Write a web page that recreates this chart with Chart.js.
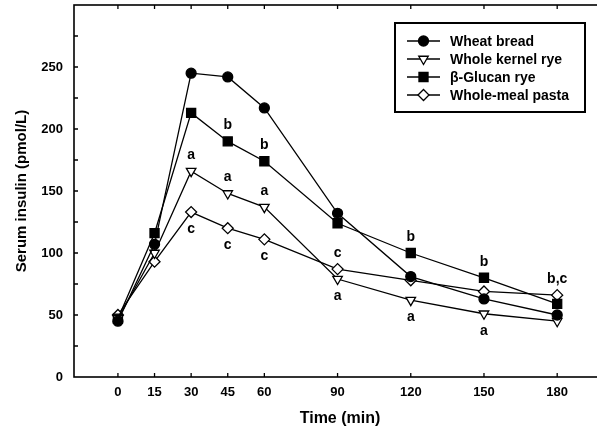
<!DOCTYPE html>
<html>
<head>
<meta charset="utf-8">
<script src="https://cdn.jsdelivr.net/npm/chart.js@4/dist/chart.umd.min.js"></script>
<style>
    html, body { margin: 0; padding: 0; background: #fff; overflow: hidden; }
    #wrap { width: 620px; height: 432px; }
</style>
</head>
<body>
<div id="wrap"><canvas id="chartInsulin" width="620" height="432"></canvas></div>
<script>
    const times = [0, 15, 30, 45, 60, 90, 120, 150, 180];
    const wheatBread = [45, 107, 245, 242, 217, 132, 81, 63, 50];
    const wholeKernelRye = [47, 100, 166, 148, 137, 79, 62, 51, 45];
    const glucanRye = [47, 116, 213, 190, 174, 124, 100, 80, 59];
    const wholeMealPasta = [50, 93, 133, 120, 111, 87, 78, 69, 66];
    const seriesNames = ['Wheat bread', 'Whole kernel rye', 'β-Glucan rye', 'Whole-meal pasta'];
    const yLabelTicks = [0, 50, 100, 150, 200, 250];

    // significance letters: series index, time, text, above/below the point
    const noteSeries = [2, 2, 1, 1, 1, 3, 3, 3, 3, 1, 2, 1, 2, 1, 3];
    const noteTimes = [45, 60, 30, 45, 60, 30, 45, 60, 90, 90, 120, 120, 150, 150, 180];
    const noteText = ['b', 'b', 'a', 'a', 'a', 'c', 'c', 'c', 'c', 'a', 'b', 'a', 'b', 'a', 'b,c'];
    const noteAbove = [true, true, true, true, true, false, false, false, true, false, true, false, true, false, true];

    const FONT = '"Liberation Sans", Arial, Helvetica, sans-serif';
    const seriesValues = [wheatBread, wholeKernelRye, glucanRye, wholeMealPasta];
    const markers = [
        { style: 'circle', radius: 5, fill: '#000', rotation: 0 },
        { style: 'triangle', radius: 5.5, fill: '#fff', rotation: 180 },
        { style: 'rect', radius: 6.4, fill: '#000', rotation: 0 },
        { style: 'rectRot', radius: 5.5, fill: '#fff', rotation: 0 }
    ];

    function drawMarker(ctx, m, x, y) {
        ctx.fillStyle = m.fill;
        ctx.strokeStyle = '#000';
        ctx.lineWidth = 1.3;
        if (window.Chart && Chart.helpers && Chart.helpers.drawPoint) {
            Chart.helpers.drawPoint(ctx, { pointStyle: m.style, radius: m.radius, rotation: m.rotation, borderWidth: 1.3 }, x, y);
        }
    }

    const framePlugin = {
        id: 'frame',
        afterDraw(chart) {
            const { ctx, chartArea, scales } = chart;
            const { left, right, top, bottom } = chartArea;
            ctx.save();
            ctx.strokeStyle = '#000';
            ctx.lineWidth = 1.6;
            ctx.strokeRect(left, top, right - left, bottom - top);
            ctx.lineWidth = 1.3;
            ctx.beginPath();
            times.forEach(t => {
                const px = scales.x.getPixelForValue(t);
                ctx.moveTo(px, bottom); ctx.lineTo(px, bottom - 4);
                ctx.moveTo(px, top); ctx.lineTo(px, top + 4);
            });
            for (let v = 25; v < 300; v += 25) {
                const py = scales.y.getPixelForValue(v);
                ctx.moveTo(left, py); ctx.lineTo(left + 4, py);
                ctx.moveTo(right, py); ctx.lineTo(right - 4, py);
            }
            ctx.stroke();
            ctx.restore();
        }
    };

    const notesPlugin = {
        id: 'notes',
        afterDatasetsDraw(chart) {
            const { ctx, scales } = chart;
            ctx.save();
            ctx.fillStyle = '#000';
            ctx.font = 'bold 14px ' + FONT;
            ctx.textAlign = 'center';
            ctx.textBaseline = 'middle';
            noteText.forEach((txt, i) => {
                const idx = times.indexOf(noteTimes[i]);
                const value = seriesValues[noteSeries[i]][idx];
                const px = scales.x.getPixelForValue(noteTimes[i]);
                const py = scales.y.getPixelForValue(value) + (noteAbove[i] ? -16 : 17);
                ctx.fillText(txt, px, py);
            });
            ctx.restore();
        }
    };

    const legendPlugin = {
        id: 'boxLegend',
        afterDraw(chart) {
            const { ctx } = chart;
            ctx.save();
            ctx.strokeStyle = '#000';
            ctx.lineWidth = 2;
            ctx.strokeRect(395, 23, 190, 89);
            ctx.font = 'bold 14px ' + FONT;
            ctx.textBaseline = 'middle';
            ctx.textAlign = 'left';
            seriesNames.forEach((name, i) => {
                const ry = 41 + i * 18;
                ctx.strokeStyle = '#000';
                ctx.lineWidth = 1.3;
                ctx.beginPath();
                ctx.moveTo(407, ry); ctx.lineTo(440, ry);
                ctx.stroke();
                drawMarker(ctx, markers[i], 423.5, ry);
                ctx.fillStyle = '#000';
                ctx.fillText(name, 450, ry + 1);
            });
            ctx.restore();
        }
    };

    const datasets = seriesValues.map((values, i) => ({
        label: seriesNames[i],
        data: times.map((t, k) => ({ x: t, y: values[k] })),
        borderColor: '#000',
        borderWidth: 1.3,
        tension: 0,
        pointStyle: markers[i].style,
        pointRadius: markers[i].radius,
        pointRotation: markers[i].rotation,
        pointBackgroundColor: markers[i].fill,
        pointBorderColor: '#000',
        pointBorderWidth: 1.3
    }));

    new Chart(document.getElementById('chartInsulin'), {
        type: 'line',
        data: { datasets },
        options: {
            responsive: false,
            animation: false,
            layout: { autoPadding: false, padding: { top: 5, right: 14, left: 0, bottom: 0 } },
            plugins: {
                legend: { display: false },
                tooltip: { enabled: false }
            },
            scales: {
                x: {
                    type: 'linear',
                    min: -18,
                    max: 200,
                    afterBuildTicks: scale => { scale.ticks = times.map(v => ({ value: v })); },
                    afterFit: scale => { scale.height = 55; scale.paddingLeft = 0; scale.paddingRight = 0; },
                    grid: { display: false, drawTicks: false },
                    border: { display: false },
                    ticks: { color: '#000', padding: 8, maxRotation: 0, autoSkip: false, font: { family: FONT, size: 13, weight: 'bold' } },
                    title: { display: true, text: 'Time (min)', color: '#000', padding: { top: 11 }, font: { family: FONT, size: 16, weight: 'bold' } }
                },
                y: {
                    min: 0,
                    max: 300,
                    afterBuildTicks: scale => { scale.ticks = yLabelTicks.map(v => ({ value: v })); },
                    afterFit: scale => { scale.width = 74; scale.paddingTop = 0; scale.paddingBottom = 0; },
                    grid: { display: false, drawTicks: false },
                    border: { display: false },
                    ticks: { color: '#000', padding: 11, font: { family: FONT, size: 13, weight: 'bold' } },
                    title: { display: true, text: 'Serum insulin (pmol/L)', color: '#000', padding: { top: 13, bottom: 4 }, font: { family: FONT, size: 15, weight: 'bold' } }
                }
            }
        },
        plugins: [framePlugin, notesPlugin, legendPlugin]
    });
</script>
</body>
</html>
